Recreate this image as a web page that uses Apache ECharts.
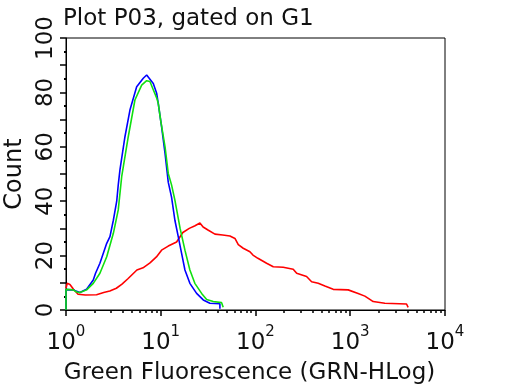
<!DOCTYPE html>
<html>
<head>
<meta charset="utf-8">
<script src="https://cdn.jsdelivr.net/npm/echarts@6/dist/echarts.min.js"></script>
<style>html,body{margin:0;padding:0;background:#fff}#c{width:512px;height:384px}</style>
</head>
<body>
<div id="c"></div>
<script>
// Fluorescence (GRN-HLog) values and counts
const redX   = [1.0, 1.03, 1.1, 1.2, 1.34, 1.6, 2.1, 2.5, 2.9, 3.4, 3.9, 4.5, 5.6, 6.5, 7.7, 9.0, 10.2, 12.0, 14.7, 17.1, 20.0, 23.0, 25.9, 28.0, 31.5, 37.3, 45.0, 53.7, 60.7, 65.8, 74.2, 87.3, 94.0, 106, 131, 154, 196, 250, 272, 346, 391, 459, 540, 661, 951, 991, 1211, 1426, 1610, 1746, 2318, 3927, 4083];
const redY   = [8.0, 9.8, 9.4, 7.6, 5.8, 5.5, 5.6, 6.4, 7.0, 8.0, 9.5, 11.5, 14.7, 15.5, 17.3, 19.5, 22.0, 23.5, 25.0, 28.5, 30.0, 31.0, 32.0, 30.5, 29.4, 27.9, 27.6, 27.2, 26.3, 24.0, 22.7, 21.4, 20.2, 19.0, 17.2, 15.9, 15.7, 15.0, 13.5, 12.3, 10.4, 9.8, 8.8, 7.6, 7.4, 6.7, 6.1, 5.1, 3.9, 3.1, 2.5, 2.2, 1.0];
const blueX  = [1.0, 1.0, 1.19, 1.4, 1.65, 1.94, 2.05, 2.28, 2.69, 2.91, 3.16, 3.43, 3.56, 3.71, 4.19, 4.73, 5.57, 6.54, 7.10, 7.38, 8.34, 9.05, 9.41, 10.2, 11.1, 12.0, 13.0, 14.1, 15.3, 16.6, 18.0, 20.3, 23.9, 28.1, 33.0, 42.1, 42.1];
const blueY  = [0, 7.5, 7.4, 6.4, 7.6, 11.0, 13.5, 17.2, 24.5, 27.0, 33.0, 40.0, 46.0, 51.5, 63.7, 73.5, 82.1, 85.2, 86.4, 86.0, 83.3, 79.7, 76.0, 67.4, 57.6, 47.0, 41.5, 33.0, 27.0, 20.8, 14.7, 9.8, 6.1, 3.7, 2.5, 2.3, 0.5];
const greenX = [1.0, 1.0, 1.19, 1.3, 1.4, 1.65, 1.94, 2.28, 2.69, 3.16, 3.56, 3.87, 4.54, 5.34, 6.29, 7.10, 7.69, 8.34, 9.05, 9.41, 10.0, 11.1, 12.0, 13.0, 14.1, 14.7, 16.0, 18.0, 20.3, 22.9, 27.0, 30.5, 35.8, 43.9, 45.6, 45.6];
const greenY = [0, 7.6, 7.4, 6.6, 6.4, 7.4, 9.8, 13.5, 19.6, 28.2, 36.8, 49.0, 63.7, 77.2, 82.7, 84.3, 84.0, 81.0, 78.0, 76.0, 69.5, 60.0, 50.2, 46.0, 40.4, 37.0, 30.0, 22.0, 14.7, 9.8, 6.1, 3.9, 3.1, 2.7, 2.7, 1.0];

const yLabelValues = [0, 20, 40, 60, 80, 100];
const xMinorTickValues = [2,3,4,5,6,7,8,9, 20,30,40,50,60,70,80,90, 200,300,400,500,600,700,800,900, 2000,3000,4000,5000,6000,7000,8000,9000];

const FONT = 'DejaVu Sans';
const TXT = '#111';
function pairs(xs, ys) { return xs.map((x, i) => [x, ys[i]]); }

const chart = echarts.init(document.getElementById('c'), null, {renderer: 'canvas'});
chart.setOption({
  animation: false,
  backgroundColor: '#fff',
  title: {
    text: 'Plot P03, gated on G1',
    left: 58, top: 3,
    textStyle: {fontFamily: FONT, fontSize: 23, fontWeight: 'normal', color: TXT}
  },
  grid: {left: 66, right: 67, top: 38, bottom: 74, outerBoundsMode: 'none', containLabel: false,
    show: true, borderColor: '#000', borderWidth: 1, backgroundColor: 'transparent'},
  xAxis: [{
    type: 'log', logBase: 10, min: 1, max: 10000,
    name: 'Green Fluorescence (GRN-HLog)',
    nameLocation: 'middle', nameGap: 52,
    nameTextStyle: {fontFamily: FONT, fontSize: 23, color: TXT, padding: [0, 12, 0, 0]},
    axisLine: {show: true, lineStyle: {color: '#000', width: 1}},
    axisTick: {show: true, length: 6, lineStyle: {color: '#000', width: 1.5}},
    splitLine: {show: false},
    axisLabel: {
      margin: 15,
      formatter: function (v) { return '{b|10}{s|' + Math.round(Math.log10(v)) + '}'; },
      rich: {
        b: {fontFamily: FONT, fontSize: 23, color: TXT, lineHeight: 30, verticalAlign: 'bottom'},
        s: {fontFamily: FONT, fontSize: 15, color: TXT, lineHeight: 30, verticalAlign: 'top'}
      }
    }
  }, {
    type: 'value', min: 0, max: 4, position: 'bottom',
    axisLine: {show: false},
    axisLabel: {show: false},
    splitLine: {show: false},
    axisTick: {show: true, length: 3, lineStyle: {color: '#000', width: 1.5},
      customValues: xMinorTickValues.map(v => Math.log10(v))}
  }],
  yAxis: {
    type: 'value', min: 0, max: 100, interval: 10,
    name: 'Count', nameLocation: 'middle', nameGap: 38, nameRotate: 90,
    nameTextStyle: {fontFamily: FONT, fontSize: 24, color: TXT},
    axisLine: {show: true, lineStyle: {color: '#000', width: 1}},
    axisTick: {show: true, length: 6, lineStyle: {color: '#000', width: 1.5}},
    minorTick: {show: true, splitNumber: 2, length: 2, lineStyle: {color: '#000', width: 2}},
    splitLine: {show: false},
    axisLabel: {rotate: 90, margin: 8, customValues: yLabelValues,
      fontFamily: FONT, fontSize: 23, color: TXT}
  },
  series: [
    {type: 'line', data: pairs(redX, redY), showSymbol: false, lineStyle: {color: '#ff0000', width: 1.6}, z: 2},
    {type: 'line', data: pairs(blueX, blueY), showSymbol: false, lineStyle: {color: '#0000ff', width: 1.6}, z: 3},
    {type: 'line', data: pairs(greenX, greenY), showSymbol: false, lineStyle: {color: '#10e010', width: 1.6}, z: 4}
  ]
});
</script>
</body>
</html>
